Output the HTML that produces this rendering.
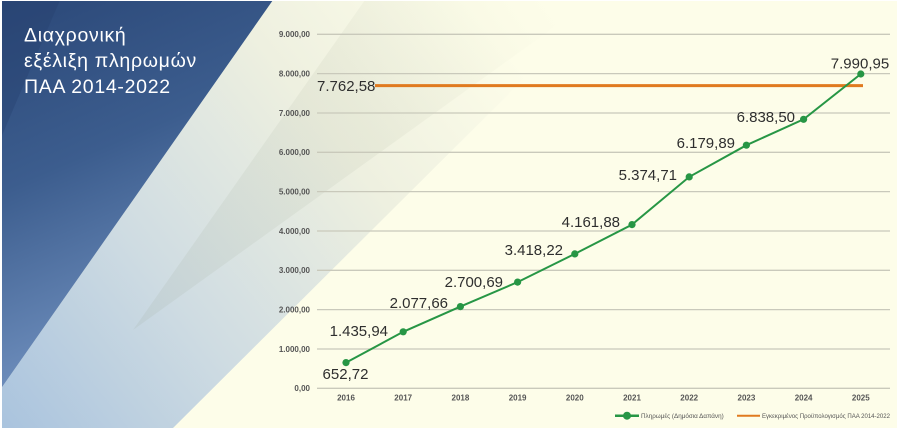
<!DOCTYPE html>
<html>
<head>
<meta charset="utf-8">
<style>
  html,body{margin:0;padding:0;background:#ffffff;}
  body{width:901px;height:431px;overflow:hidden;}
  svg{display:block;}
  .t{font-family:"Liberation Sans","DejaVu Sans",sans-serif;}
</style>
</head>
<body>
<svg width="901" height="431" viewBox="0 0 901 431" xmlns="http://www.w3.org/2000/svg">
  <defs>
    <clipPath id="c"><rect x="2" y="1" width="895" height="427"/></clipPath>
    <linearGradient id="blue" x1="0" y1="0" x2="0.3" y2="1">
      <stop offset="0" stop-color="#2b4878"/>
      <stop offset="0.45" stop-color="#3c5d8e"/>
      <stop offset="1" stop-color="#7494c2"/>
    </linearGradient>
    <linearGradient id="pale" gradientUnits="userSpaceOnUse" x1="0" y1="431" x2="500" y2="40">
      <stop offset="0" stop-color="#a9c3de"/>
      <stop offset="0.35" stop-color="#cfdce2"/>
      <stop offset="0.7" stop-color="#eef0e0"/>
      <stop offset="1" stop-color="#fdfde9"/>
    </linearGradient>
    <linearGradient id="shade" gradientUnits="userSpaceOnUse" x1="120" y1="330" x2="560" y2="20">
      <stop offset="0" stop-color="#9aa89a" stop-opacity="0.16"/>
      <stop offset="0.6" stop-color="#a0a890" stop-opacity="0.11"/>
      <stop offset="1" stop-color="#a0a890" stop-opacity="0"/>
    </linearGradient>
  </defs>
  <g clip-path="url(#c)">
    <rect x="0" y="0" width="901" height="431" fill="#fdfde9"/>
    <!-- pale region -->
    <polygon points="273,0 603,0 170,431 0,431 0,390" fill="url(#pale)"/>
    <!-- shade wedge -->
    <polygon points="365,0 592,0 133,330" fill="url(#shade)"/>
    <!-- blue triangle -->
    <polygon points="0,0 273,0 0,390" fill="url(#blue)"/>
    <polygon points="0,0 60,0 0,140" fill="#24406e" opacity="0.35"/>
  </g>

  <!-- title -->
  <g class="t" fill="#ffffff" font-size="19.5" letter-spacing="0.7">
    <text x="24" y="41.5">Διαχρονική</text>
    <text x="24" y="67">εξέλιξη πληρωμών</text>
    <text x="24" y="93">ΠΑΑ 2014-2022</text>
  </g>

  <!-- gridlines -->
  <g stroke="#c9c9bb" stroke-width="1.3">
    <line x1="317" y1="34.3" x2="890" y2="34.3"/>
    <line x1="317" y1="73.6" x2="890" y2="73.6"/>
    <line x1="317" y1="113" x2="890" y2="113"/>
    <line x1="317" y1="152.3" x2="890" y2="152.3"/>
    <line x1="317" y1="191.6" x2="890" y2="191.6"/>
    <line x1="317" y1="231" x2="890" y2="231"/>
    <line x1="317" y1="270.3" x2="890" y2="270.3"/>
    <line x1="317" y1="309.6" x2="890" y2="309.6"/>
    <line x1="317" y1="349" x2="890" y2="349"/>
    <line x1="317" y1="388.3" x2="890" y2="388.3"/>
  </g>

  <!-- y labels -->
  <g class="t" fill="#555555" font-size="8" font-weight="bold" text-anchor="end">
    <text x="310" y="37.2">9.000,00</text>
    <text x="310" y="76.5">8.000,00</text>
    <text x="310" y="115.9">7.000,00</text>
    <text x="310" y="155.2">6.000,00</text>
    <text x="310" y="194.5">5.000,00</text>
    <text x="310" y="233.9">4.000,00</text>
    <text x="310" y="273.2">3.000,00</text>
    <text x="310" y="312.5">2.000,00</text>
    <text x="310" y="351.9">1.000,00</text>
    <text x="310" y="391.2">0,00</text>
  </g>

  <!-- x labels -->
  <g class="t" fill="#555555" font-size="8" font-weight="bold" text-anchor="middle">
    <text x="346" y="400.5">2016</text>
    <text x="403.2" y="400.5">2017</text>
    <text x="460.4" y="400.5">2018</text>
    <text x="517.6" y="400.5">2019</text>
    <text x="574.8" y="400.5">2020</text>
    <text x="632" y="400.5">2021</text>
    <text x="689.2" y="400.5">2022</text>
    <text x="746.4" y="400.5">2023</text>
    <text x="803.6" y="400.5">2024</text>
    <text x="860.8" y="400.5">2025</text>
  </g>

  <!-- orange budget line -->
  <line x1="375" y1="85.6" x2="863" y2="85.6" stroke="#e07a1f" stroke-width="3"/>
  <text class="t" x="317" y="91" font-size="15" fill="#2e2e2e">7.762,58</text>

  <!-- green series -->
  <polyline fill="none" stroke="#279645" stroke-width="2"
    points="346,362.6 403.2,331.8 460.4,306.6 517.6,282.1 574.8,253.9 632,224.6 689.2,176.9 746.4,145.2 803.6,119.3 860.8,74"/>
  <g fill="#279645">
    <circle cx="346" cy="362.6" r="3.6"/>
    <circle cx="403.2" cy="331.8" r="3.6"/>
    <circle cx="460.4" cy="306.6" r="3.6"/>
    <circle cx="517.6" cy="282.1" r="3.6"/>
    <circle cx="574.8" cy="253.9" r="3.6"/>
    <circle cx="632" cy="224.6" r="3.6"/>
    <circle cx="689.2" cy="176.9" r="3.6"/>
    <circle cx="746.4" cy="145.2" r="3.6"/>
    <circle cx="803.6" cy="119.3" r="3.6"/>
    <circle cx="860.8" cy="74" r="3.6"/>
  </g>

  <!-- value labels -->
  <g class="t" font-size="15" fill="#2e2e2e">
    <text x="345.5" y="379" text-anchor="middle">652,72</text>
    <text x="388" y="336" text-anchor="end">1.435,94</text>
    <text x="448" y="308" text-anchor="end">2.077,66</text>
    <text x="503" y="287" text-anchor="end">2.700,69</text>
    <text x="563" y="255" text-anchor="end">3.418,22</text>
    <text x="620" y="227" text-anchor="end">4.161,88</text>
    <text x="677" y="180" text-anchor="end">5.374,71</text>
    <text x="735" y="148" text-anchor="end">6.179,89</text>
    <text x="795" y="122" text-anchor="end">6.838,50</text>
    <text x="860" y="68.5" text-anchor="middle">7.990,95</text>
  </g>

  <!-- legend -->
  <line x1="615" y1="415.7" x2="639" y2="415.7" stroke="#279645" stroke-width="2.5"/>
  <circle cx="627" cy="415.7" r="4" fill="#279645"/>
  <text class="t" x="641" y="418" font-size="6.3" fill="#555555">Πληρωμές (Δημόσια Δαπάνη)</text>
  <line x1="737" y1="415.7" x2="760" y2="415.7" stroke="#e07a1f" stroke-width="2"/>
  <text class="t" x="762" y="418" font-size="6.3" fill="#555555" textLength="128" lengthAdjust="spacingAndGlyphs">Εγκεκριμένος Προϋπολογισμός ΠΑΑ 2014-2022</text>
</svg>
</body>
</html>
